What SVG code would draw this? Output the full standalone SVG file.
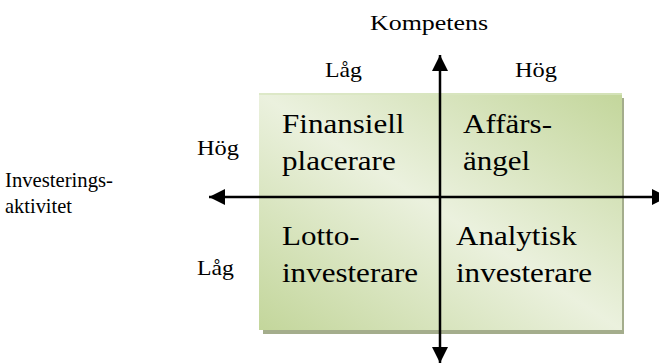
<svg xmlns="http://www.w3.org/2000/svg" width="659" height="363" viewBox="0 0 659 363">
<defs>
<linearGradient id="fill" x1="0" y1="1" x2="1" y2="0">
<stop offset="0" stop-color="#c3d69b"/>
<stop offset="0.5" stop-color="#ebf1de"/>
<stop offset="1" stop-color="#c3d69b"/>
</linearGradient>
<marker id="ah" viewBox="0 0 16 16" refX="16" refY="8" markerWidth="16" markerHeight="16" markerUnits="userSpaceOnUse" orient="auto">
<path d="M0,0 L16,8 L0,16 Z" fill="#000"/>
</marker>
<style>
text{font-family:"Liberation Serif","Times New Roman",serif;fill:#000}
.lab{font-size:21px}
.q{font-size:27px}
.axis{stroke:#000;stroke-width:2.5;fill:none}
</style>
</defs>
<rect width="659" height="363" fill="#fff"/>
<g id="matrix">
<rect x="263" y="98" width="361" height="236" fill="#a4ad8c"/>
<rect x="259" y="93" width="363" height="237" fill="url(#fill)"/>
<line x1="259" y1="94" x2="622" y2="94" stroke="#d9e6c0" stroke-width="1.5"/>
</g>
<g id="q-finansiell" transform="translate(282,0) scale(1.15,1)"><text class="q" x="0" y="133">Finansiell</text><text class="q" x="0" y="170">placerare</text></g>
<g id="q-affars" transform="translate(463,0) scale(1.15,1)"><text class="q" x="0" y="133">Affärs-</text><text class="q" x="0" y="170">ängel</text></g>
<g id="q-lotto" transform="translate(282,0) scale(1.15,1)"><text class="q" x="0" y="245">Lotto-</text><text class="q" x="0" y="282">investerare</text></g>
<g id="q-analytisk" transform="translate(456,0) scale(1.15,1)"><text class="q" x="0" y="245">Analytisk</text><text class="q" x="0" y="282">investerare</text></g>
<g id="connectors">
<line class="axis" x1="440" y1="196" x2="440" y2="55" marker-end="url(#ah)"/>
<line class="axis" x1="440" y1="196" x2="440" y2="363" marker-end="url(#ah)"/>
<line class="axis" x1="440" y1="197" x2="209" y2="197" marker-end="url(#ah)"/>
<line class="axis" x1="440" y1="197" x2="668" y2="197" marker-end="url(#ah)"/>
</g>
<g id="labels">
<text class="lab" x="429" y="30" text-anchor="middle" textLength="118" lengthAdjust="spacingAndGlyphs">Kompetens</text>
<text class="lab" x="325" y="77" textLength="37" lengthAdjust="spacingAndGlyphs">Låg</text>
<text class="lab" x="515" y="77" textLength="42" lengthAdjust="spacingAndGlyphs">Hög</text>
<text class="lab" x="197" y="155" textLength="42" lengthAdjust="spacingAndGlyphs">Hög</text>
<text class="lab" x="197" y="275" textLength="37" lengthAdjust="spacingAndGlyphs">Låg</text>
<text class="lab" x="5" y="187" textLength="108" lengthAdjust="spacingAndGlyphs">Investerings-</text>
<text class="lab" x="5" y="213" textLength="67" lengthAdjust="spacingAndGlyphs">aktivitet</text>
</g>
</svg>
